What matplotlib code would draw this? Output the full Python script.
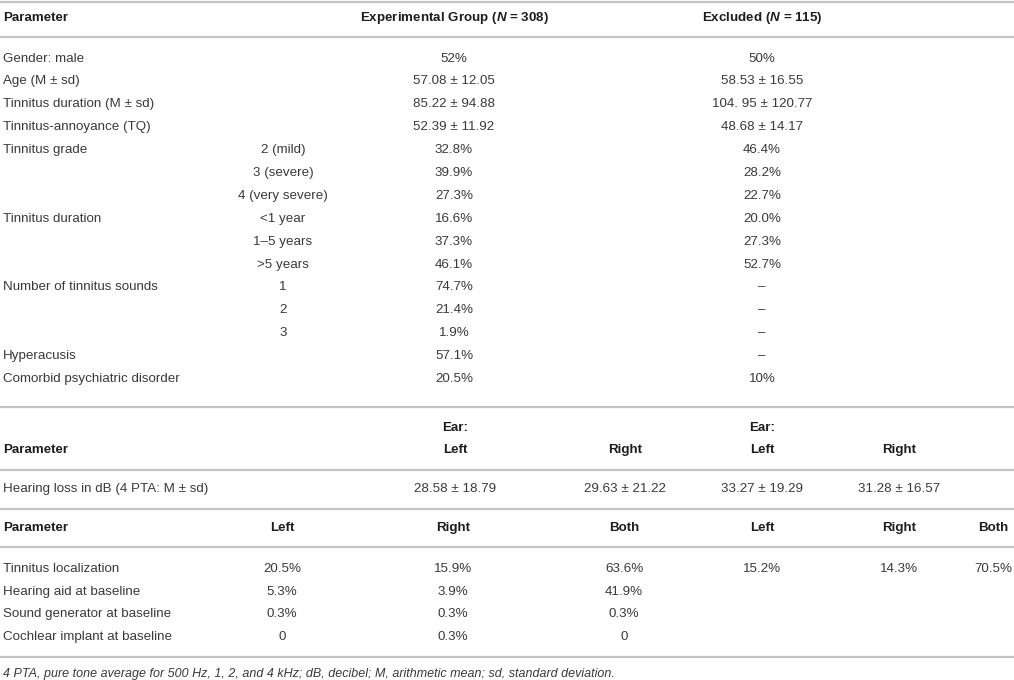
import matplotlib
matplotlib.use("Agg")
from matplotlib import pyplot as plt

plt.rcParams["font.family"] = ["Liberation Sans", "DejaVu Sans"]
plt.rcParams["mathtext.fontset"] = "custom"
plt.rcParams["mathtext.rm"] = "Liberation Sans"
plt.rcParams["mathtext.it"] = "Liberation Sans:italic"
plt.rcParams["mathtext.bf"] = "Liberation Sans:bold"
plt.rcParams["mathtext.bfit"] = "Liberation Sans:italic:bold"

# ---- table data ----
header_top = ["Parameter", r"Experimental Group ($\mathbfit{N}$ = 308)", r"Excluded ($\mathbfit{N}$ = 115)"]

row_labels = ["Gender: male", "Age (M \u00b1 sd)", "Tinnitus duration (M \u00b1 sd)",
              "Tinnitus-annoyance (TQ)", "Tinnitus grade", "", "", "Tinnitus duration", "", "",
              "Number of tinnitus sounds", "", "", "Hyperacusis", "Comorbid psychiatric disorder"]
row_sublabels = ["", "", "", "", "2 (mild)", "3 (severe)", "4 (very severe)",
                 "<1 year", "1\u20135 years", ">5 years", "1", "2", "3", "", ""]
experimental = ["52%", "57.08 \u00b1 12.05", "85.22 \u00b1 94.88", "52.39 \u00b1 11.92",
                "32.8%", "39.9%", "27.3%", "16.6%", "37.3%", "46.1%",
                "74.7%", "21.4%", "1.9%", "57.1%", "20.5%"]
excluded = ["50%", "58.53 \u00b1 16.55", "104. 95 \u00b1 120.77", "48.68 \u00b1 14.17",
            "46.4%", "28.2%", "22.7%", "20.0%", "27.3%", "52.7%",
            "\u2013", "\u2013", "\u2013", "\u2013", "10%"]

ear_headers = ["Left", "Right", "Left", "Right"]
hearing_label = "Hearing loss in dB (4 PTA: M \u00b1 sd)"
hearing_values = ["28.58 \u00b1 18.79", "29.63 \u00b1 21.22", "33.27 \u00b1 19.29", "31.28 \u00b1 16.57"]

side_headers = ["Left", "Right", "Both", "Left", "Right", "Both"]
side_labels = ["Tinnitus localization", "Hearing aid at baseline",
               "Sound generator at baseline", "Cochlear implant at baseline"]
side_values = [
    ["20.5%", "15.9%", "63.6%", "15.2%", "14.3%", "70.5%"],
    ["5.3%", "3.9%", "41.9%", "", "", ""],
    ["0.3%", "0.3%", "0.3%", "", "", ""],
    ["0", "0.3%", "0", "", "", ""],
]

footnote = "4 PTA, pure tone average for 500 Hz, 1, 2, and 4 kHz; dB, decibel; M, arithmetic mean; sd, standard deviation."

# ---- drawing ----
W, H = 1014, 680
fig = plt.figure(figsize=(W / 100, H / 100), dpi=100)
ax = fig.add_axes([0, 0, 1, 1])
ax.set_xlim(0, W)
ax.set_ylim(H, 0)
ax.axis("off")

body = "#3a3a3a"
head = "#1e1e1e"
line_c = "#c4c4c4"
fs = 9.6
left_x = 3


def hline(y):
    ax.plot([0, W], [y, y], color=line_c, lw=1.6, solid_capstyle="butt")


def body_text(x, y, s, ha="center"):
    ax.text(x, y, s, ha=ha, va="center", fontsize=fs, color=body)


def head_text(x, y, s, ha="center"):
    ax.text(x, y, s, ha=ha, va="center", fontsize=fs, color=head, fontweight="bold")


# top section
exp_x, exc_x, sub_x = 454, 762, 283
hline(1.5)
head_text(left_x, 18, header_top[0], ha="left")
head_text(exp_x, 18, header_top[1])
head_text(exc_x, 18, header_top[2])
hline(36.5)

y0, dy = 58.5, 22.9
for i in range(len(row_labels)):
    y = y0 + i * dy
    body_text(left_x, y, row_labels[i], ha="left")
    body_text(sub_x, y, row_sublabels[i])
    body_text(exp_x, y, experimental[i])
    body_text(exc_x, y, excluded[i])

hline(406.5)

# hearing loss section
ear_x = [455, 625, 762, 899]
head_text(ear_x[0], 428, "Ear:")
head_text(ear_x[2], 428, "Ear:")
head_text(left_x, 450, "Parameter", ha="left")
for x, s in zip(ear_x, ear_headers):
    head_text(x, 450, s)
hline(469.5)
body_text(left_x, 489, hearing_label, ha="left")
for x, s in zip(ear_x, hearing_values):
    body_text(x, 489, s)
hline(508.5)

# localization section
side_x = [282, 453, 624, 762, 899, 993]
head_text(left_x, 528, "Parameter", ha="left")
for x, s in zip(side_x, side_headers):
    head_text(x, 528, s)
hline(547)
for j, lab in enumerate(side_labels):
    y = 569 + j * 22.7
    body_text(left_x, y, lab, ha="left")
    for x, s in zip(side_x, side_values[j]):
        body_text(x, y, s)
hline(656.5)

ax.text(left_x, 674, footnote, ha="left", va="center", fontsize=9, color=body, style="italic")

fig.savefig("out.png", dpi=100)
